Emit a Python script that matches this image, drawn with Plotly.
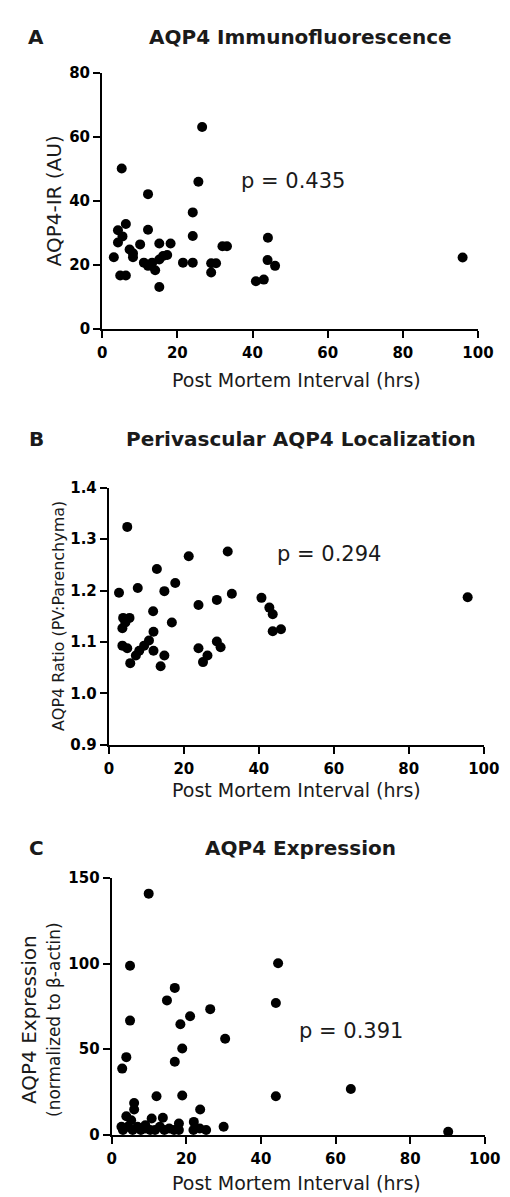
import plotly.graph_objects as go

# Panel A: AQP4 Immunofluorescence
a_pmi = [3.1, 4.2, 5.4, 4.2, 5.2, 6.3, 4.8, 6.3, 7.3, 8.2, 8.2, 10.1, 11.1, 12.2, 12.2, 12.2,
         13.3, 14.1, 15.2, 15.2, 15.2, 16.2, 17.3, 18.2, 21.5, 24.1, 24.1, 24.1, 25.6, 26.6,
         29.0, 29.0, 30.3, 32.0, 33.2, 40.9, 43.0, 44.1, 44.0, 46.0, 95.9]
a_ir = [22.5, 30.9, 29.0, 27.1, 50.2, 32.9, 16.8, 16.8, 24.9, 23.7, 22.5, 26.5, 20.8, 42.2, 31.1, 19.8,
        20.8, 18.4, 13.2, 21.8, 26.8, 22.9, 23.2, 26.8, 20.8, 20.8, 29.1, 36.5, 46.1, 63.2,
        17.7, 20.6, 20.6, 25.9, 25.9, 15.0, 15.5, 28.6, 21.6, 19.8, 22.4]

# Panel B: Perivascular AQP4 Localization
b_pmi = [2.7, 4.9, 3.8, 5.5, 3.6, 4.4, 3.6, 4.9, 5.7, 7.2, 8.1, 7.7, 9.4, 10.7, 11.9, 11.9, 11.8,
         12.8, 14.8, 14.8, 13.8, 16.8, 17.7, 21.3, 23.9, 23.9, 25.1, 26.3, 28.8, 28.8, 29.8,
         31.7, 32.8, 40.7, 42.8, 43.7, 43.7, 45.9, 95.7]
b_ratio = [1.196, 1.324, 1.147, 1.147, 1.127, 1.138, 1.093, 1.088, 1.059, 1.074, 1.083, 1.205, 1.093,
           1.103, 1.083, 1.120, 1.160, 1.242, 1.199, 1.074, 1.053, 1.138, 1.215, 1.267, 1.172,
           1.088, 1.061, 1.074, 1.182, 1.101, 1.090, 1.276, 1.194, 1.186, 1.167, 1.154, 1.121,
           1.125, 1.187]

# Panel C: AQP4 Expression
c_pmi = [9.9, 4.9, 4.9, 3.9, 2.8, 14.8, 16.9, 18.4, 21.0, 18.9, 16.9, 26.4, 30.4, 44.6, 44.0, 44.0,
         12.0, 18.9, 6.0, 6.0, 3.9, 10.7, 13.7, 23.7, 22.0, 30.0, 64.1, 90.2,
         2.6, 3.0, 4.3, 5.6, 6.9, 7.8, 9.0, 10.3, 11.6, 12.9, 14.1, 15.4, 16.7, 18.0, 18.0,
         21.9, 23.6, 25.3, 5.2, 9.0]
c_expr = [140.8, 98.7, 66.7, 45.4, 38.7, 78.5, 85.8, 64.6, 69.3, 50.4, 42.7, 73.4, 56.1, 100.2, 77.0, 22.6,
          22.6, 23.0, 18.6, 14.8, 10.9, 9.6, 10.0, 14.8, 7.6, 4.8, 26.8, 1.9,
          4.8, 2.9, 4.8, 2.9, 4.8, 2.9, 3.8, 2.9, 2.9, 4.8, 2.9, 3.8, 2.9, 6.7, 2.9,
          2.9, 3.8, 2.9, 8.6, 5.7]

x_ticks = [0, 20, 40, 60, 80, 100]
x_title = "Post Mortem Interval (hrs)"
a_yticks = [0, 20, 40, 60, 80]
b_yticks = [0.9, 1.0, 1.1, 1.2, 1.3, 1.4]
b_ytext = ["0.9", "1.0", "1.1", "1.2", "1.3", "1.4"]
c_yticks = [0, 50, 100, 150]

FONT = "DejaVu Sans, Verdana, sans-serif"
H = 1197.0
W = 510.0

def py(px):
    return 1 - px / H

def pxx(px):
    return px / W

fig = go.Figure()

panels = [
    dict(x=a_pmi, y=a_ir, xd=[93, 485], yd=[317, 57], yr=[0, 80], yt=a_yticks,
         ytext=[str(v) for v in a_yticks]),
    dict(x=b_pmi, y=b_ratio, xd=[100, 491], yd=[739, 478], yr=[0.9, 1.4], yt=b_yticks,
         ytext=b_ytext),
    dict(x=c_pmi, y=c_expr, xd=[103, 492], yd=[1135, 874], yr=[0, 150], yt=c_yticks,
         ytext=[str(v) for v in c_yticks]),
]

for i, p in enumerate(panels):
    sfx = "" if i == 0 else str(i + 1)
    fig.add_trace(go.Scatter(x=p["x"], y=p["y"], xaxis="x" + sfx, yaxis="y" + sfx, mode="markers",
                             marker=dict(color="black", size=10, line=dict(width=0)),
                             cliponaxis=False, showlegend=False))
    axis_common = dict(showline=True, linecolor="black", linewidth=2.2, ticks="outside", ticklen=7,
                       tickwidth=2.2, tickcolor="black", showgrid=False, zeroline=False,
                       tickfont=dict(family=FONT, size=15, color="black", weight="bold"))
    fig.update_layout(**{
        "xaxis" + sfx: dict(domain=[pxx(p["xd"][0]), pxx(p["xd"][1])], range=[0, 100], tickvals=x_ticks,
                            anchor="y" + sfx, ticklabelstandoff=2, **axis_common),
        "yaxis" + sfx: dict(domain=[py(p["yd"][0]), py(p["yd"][1])], range=p["yr"], tickvals=p["yt"],
                            ticktext=p["ytext"], anchor="x" + sfx, **axis_common),
    })

TXT = "#1a1a1a"
anns = []

def add(text, x, y, size, bold=False, angle=0):
    anns.append(dict(text=("<b>%s</b>" % text) if bold else text, x=pxx(x), y=py(y),
                     xref="paper", yref="paper", showarrow=False, xanchor="center", yanchor="middle",
                     textangle=angle, font=dict(family=FONT, size=size, color=TXT)))

# panel letters and titles
add("A", 24, 20, 20, bold=True)
add("AQP4 Immunofluorescence", 300, 20, 20, bold=True)
add("B", 24, 428, 20, bold=True)
add("Perivascular AQP4 Localization", 300, 428, 20, bold=True)
add("C", 25, 844, 20, bold=True)
add("AQP4 Expression", 300, 844, 20, bold=True)

# x-axis titles
add(x_title, 296, 369, 19)
add(x_title, 296, 785, 19)
add(x_title, 296, 1184, 19)

# y-axis titles
add("AQP4-IR (AU)", 43, 187, 20, angle=-90)
add("AQP4 Ratio (PV:Parenchyma)", 48, 608, 16, angle=-90)
add("AQP4 Expression", 16, 1018, 20, angle=-90)
add("(normalized to β-actin)", 42, 1018, 17, angle=-90)

# p values
add("p = 0.435", 292, 167, 21)
add("p = 0.294", 330, 545, 21)
add("p = 0.391", 352, 1029, 21)

fig.update_layout(width=510, height=1197, margin=dict(l=0, r=0, t=0, b=0),
                  paper_bgcolor="white", plot_bgcolor="white", annotations=anns,
                  font=dict(family=FONT, color="black"))

fig.write_html("out.html")
